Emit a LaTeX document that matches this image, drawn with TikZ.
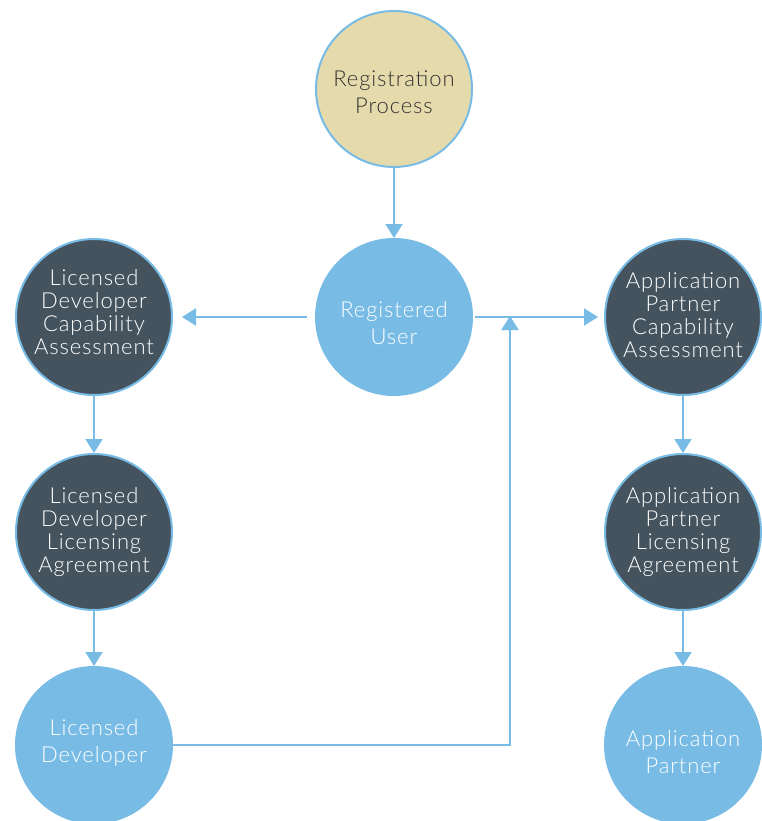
\documentclass[tikz,border=0pt]{standalone}
\usepackage{fontspec}
\setmainfont{Lato}[UprightFont={* Light}, LetterSpace=4]
\usetikzlibrary{arrows.meta,calc}
\definecolor{lblue}{HTML}{78BCE6}
\definecolor{dgrey}{HTML}{44535E}
\definecolor{beige}{HTML}{E5DAAB}
\definecolor{txtdark}{HTML}{333333}
\tikzset{
  circ/.style={circle, minimum size=156pt, inner sep=0pt, line width=2pt, draw=lblue},
  beigec/.style={circ, fill=beige},
  bluec/.style={circ, fill=lblue},
  darkc/.style={circ, fill=dgrey},
  txt/.style={align=center, inner sep=0pt, font=\fontsize{22}{27}\selectfont},
  beiget/.style={txt, text=txtdark},
  bluet/.style={txt, text=white},
  darkt/.style={txt, text=white, font=\fontsize{22}{23}\selectfont},
  conn/.style={draw=lblue, line width=2pt, -{Triangle[width=17pt,length=14pt]}},
}
\begin{document}
\begin{tikzpicture}[x=1pt,y=-1pt]
\useasboundingbox (0,0) rectangle (762,821);
\node[beigec] (rp) at (394,89) {};
\node[bluec] (ru) at (394,317) {};
\node[darkc] (ldca) at (94,317) {};
\node[darkc] (ldla) at (94,532) {};
\node[bluec] (ld) at (94,745) {};
\node[darkc] (apca) at (683,317) {};
\node[darkc] (apla) at (683,532) {};
\node[bluec] (ap) at (683,745) {};
\node[beiget] (rpt) at ($(rp)+(0,3)$) {Registration\\Process};
\node[bluet] (rut) at ($(ru)+(0,6)$) {Registered\\User};
\node[darkt] (ldcat) at ($(ldca)+(0,-5)$) {Licensed\\Developer\\Capability\\Assessment};
\node[darkt] (ldlat) at (ldla) {Licensed\\Developer\\Licensing\\Agreement};
\node[bluet] (ldt) at ($(ld)+(0,-2)$) {Licensed\\Developer};
\node[darkt] (apcat) at ($(apca)+(0,-2)$) {Application\\Partner\\Capability\\Assessment};
\node[darkt] (aplat) at (apla) {Application\\Partner\\Licensing\\Agreement};
\node[bluet] (apt) at ($(ap)+(0,7)$) {Application\\Partner};
\coordinate (j) at (510,316);
\draw[conn] (rp) -- (ru);
\draw[conn, shorten <=8pt, shorten >=9pt] (ru) -- (ldca);
\draw[conn, shorten <=2pt, shorten >=6pt] (ru) -- (apca);
\draw[conn] (ldca) -- (ldla);
\draw[conn] (ldla) -- (ld);
\draw[conn] (apca) -- (apla);
\draw[conn] (apla) -- (ap);
\draw[conn] (ld.east) -| (j);
\end{tikzpicture}
\end{document}
